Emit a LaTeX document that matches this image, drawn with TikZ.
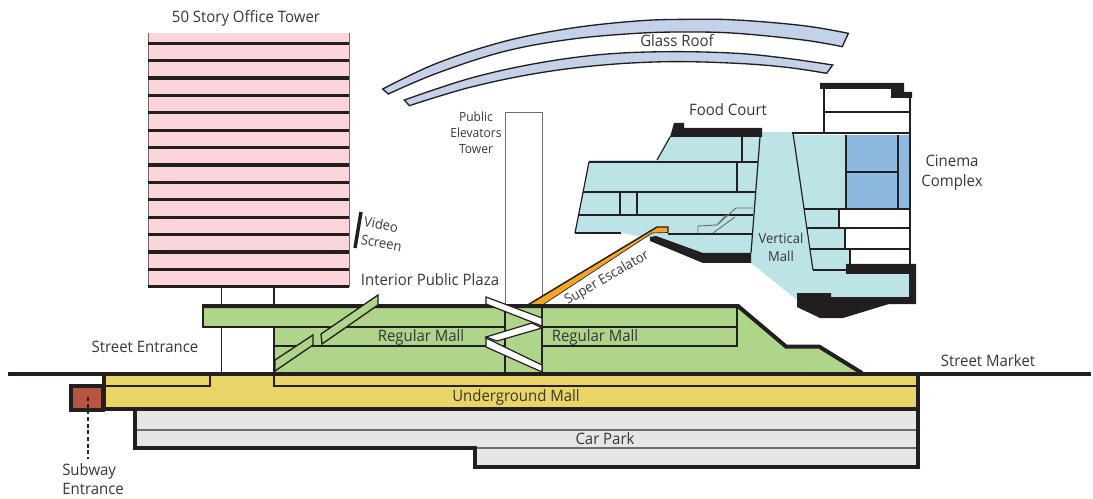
\documentclass[tikz,border=0pt]{standalone}
\usepackage{fontspec}
\setmainfont[FakeStretch=0.95]{Open Sans}
\definecolor{ink}{HTML}{231F20}
\definecolor{pinkf}{HTML}{FBD5D9}
\definecolor{greenf}{HTML}{AED589}
\definecolor{yellowf}{HTML}{E8D565}
\definecolor{greyf}{HTML}{E5E6E5}
\definecolor{aquaf}{HTML}{BCE3E6}
\definecolor{bluef}{HTML}{8DB8E0}
\definecolor{glassf}{HTML}{C3D2E8}
\definecolor{brickf}{HTML}{B85540}
\definecolor{orangef}{HTML}{F5A623}
\tikzset{
 heavy/.style={draw=ink,line width=3pt,line cap=butt,line join=miter},
 floorline/.style={draw=ink,line width=2.1pt},
 towerline/.style={draw=ink,line width=2.4pt},
 thinline/.style={draw=ink,line width=0.9pt},
 hair/.style={draw=ink!65,line width=0.7pt},
 solidblack/.style={fill=ink,draw=none},
 lab/.style={font=\fontsize{11.8}{13}\selectfont,text=ink!90,inner sep=0pt,align=center},
 ramp/.style={fill=white,draw=ink,line width=0.9pt,line join=miter},
 gramp/.style={fill=greenf,draw=ink,line width=1pt,line join=miter},
}
\begin{document}
\begin{tikzpicture}[x=0.75pt,y=-0.75pt]
\useasboundingbox (0,0) rectangle (1093,499);
% ---- tower
\fill[pinkf] (148,33) rectangle (349,287);
\draw[hair] (148,33) -- (148,287) (349,33) -- (349,287);
\foreach \i in {0,...,14}{\draw[towerline] (148,{43.3+17.385*\i}) -- (349,{43.3+17.385*\i});}
\draw[thinline] (221.5,287) -- (221.5,306) (274,287) -- (274,306);
\draw[draw=ink,line width=2.6pt] (361,212) -- (355,248);
% ---- glass roof
\begin{scope}[shift={(370,10)},x=0.25pt,y=-0.25pt]
\draw[fill=glassf,draw=ink,line width=1pt,line join=miter]
 plot[smooth,tension=0.6] coordinates {(38,237)(200,160)(400,95)(600,55)(800,33)(950,28)(1100,30)(1300,47)(1435,70)}
 -- (1417,110) -- plot[smooth,tension=0.6] coordinates {(1417,110)(1300,90)(1100,70)(950,66)(800,70)(600,88)(400,125)(200,190)(55,252)} -- cycle;
\draw[fill=glassf,draw=ink,line width=1pt,line join=miter]
 plot[smooth,tension=0.6] coordinates {(103,270)(300,205)(500,160)(700,133)(900,125)(1100,130)(1250,145)(1388,165)}
 -- (1370,190) -- plot[smooth,tension=0.6] coordinates {(1370,190)(1250,172)(1100,160)(900,155)(700,165)(500,190)(300,232)(118,287)} -- cycle;
\end{scope}
% ---- vertical mall fill
\fill[aquaf] (760,132) -- (793,132) -- (813,270) -- (846,270) -- (846,274) -- (909,274) -- (909,297) -- (831,297) -- (831,293) -- (797,293) -- (797,300) -- (751,263) -- (751,250) -- cycle;
% ---- food court block
\fill[aquaf] (670,137) -- (657,160) -- (589,160) -- (575,233) -- (621,233) -- (650,238) -- (703,253) -- (751,253) -- (760,137) -- cycle;
\draw[thinline] (670,137) -- (657,160);
\draw[thinline] (589,162) -- (575,233) (760,137) -- (751,253);
\draw[solidblack] (670,137) -- (674,123) -- (684,123) -- (684,128) -- (762,128) -- (762,137) -- cycle;
\draw[floorline] (589,162) -- (758,162);
\draw[floorline] (583,192) -- (755,192);
\draw[floorline] (578,215) -- (753,215);
\draw[floorline] (575,233) -- (621,233);
\draw[floorline] (668,234) -- (752,234);
\draw[thinline] (742,137) -- (742,161) (737,162) -- (737,192) (620,192) -- (620,215) (637,192) -- (637,215);
\draw[hair] (753,208) -- (736,208) -- (717,225) -- (698,226) -- (698,233);
\draw[hair] (735,217) -- (713,233);
\draw[hair] (726,215) -- (717,225);
\draw[solidblack] (650,237) -- (656,236) -- (703,253) -- (751,253) -- (751,263) -- (703,263) -- (650,241) -- cycle;
% ---- cinema block
\fill[aquaf] (793,135) -- (846,135) -- (846,208) -- (804,208) -- cycle;
\fill[bluef] (846,135) rectangle (910,208);
\fill[aquaf] (805,209) -- (839,209) -- (839,228) -- (808,228) -- cycle;
\fill[aquaf] (808,228) -- (845,228) -- (845,249) -- (811,249) -- cycle;
\fill[aquaf] (811,249) -- (850,249) -- (850,270) -- (813,270) -- cycle;
\draw[thinline] (793,133) -- (813,270);
\draw[thinline] (824,88) -- (824,133) (910,97) -- (910,265);
\draw[solidblack] (820,83) -- (904,83) -- (904,92) -- (912,92) -- (912,98) -- (891,98) -- (891,89) -- (820,89) -- cycle;
\draw[floorline,line width=2pt] (824,112) -- (910,112);
\draw[floorline] (792,133) -- (910,133);
\draw[thinline] (846,135) -- (846,208) (898,135) -- (898,208) (839,209) -- (839,228) (845,228) -- (845,249) (850,249) -- (850,265);
\draw[floorline] (846,172) -- (899,172);
\draw[floorline] (804,209) -- (910,209);
\draw[floorline] (807,228) -- (910,228);
\draw[floorline,line width=1.8pt] (810,249) -- (910,249);
\draw[floorline] (813,270) -- (848,270);
\draw[solidblack] (846,264) -- (916,264) -- (916,304) -- (889,304) -- (843,318) -- (820,318) -- (797,307) -- (797,293) -- (831,293) -- (831,297) -- (909,297) -- (909,274) -- (846,274) -- cycle;
% ---- elevators tower (upper part)
\draw[hair] (505,306) -- (505,112) -- (542,112) -- (542,306);
% ---- super escalator
\fill[orangef] (526,306) -- (657,227) -- (668,227) -- (668,232.5) -- (652,233) -- (541,306) -- cycle;
\draw[draw=ink,line width=1.1pt,line join=miter] (526,306) -- (657,227) -- (668,227) -- (668,232.5);
\draw[draw=ink,line width=0.5pt,line join=miter] (668,232.5) -- (652,233) -- (541,306);
% ---- mall
\fill[greenf] (203,306) -- (738,306) -- (786,347) -- (819,347) -- (862,373) -- (274,373) -- (274,327) -- (203,327) -- cycle;
\draw[thinline] (203,306) -- (203,327);
\draw[heavy] (202,306) -- (738,306) -- (786,346.5) -- (819,346.5) -- (862,373);
\draw[floorline] (202,327) -- (505,327) (542,327) -- (738,327);
\draw[floorline] (274,346) -- (505,346) (542,346) -- (738,346);
\draw[thinline] (221.5,327) -- (221.5,373) (274,327) -- (274,373) (505,306) -- (505,373) (542,306) -- (542,373) (737,306) -- (737,346);
\draw[gramp] (378,295) -- (378,305) -- (322,344) -- (321,334) -- cycle;
\draw[gramp] (313,335) -- (313,345) -- (275,371) -- (275,360) -- cycle;
\draw[ramp] (486,297) -- (542,318) -- (542,326) -- (486,304) -- cycle;
\draw[ramp] (486,337) -- (497,341) -- (542,328) -- (532,323) -- cycle;
\draw[ramp] (486,338) -- (542,365) -- (542,372) -- (486,347) -- cycle;
% ---- underground
\fill[yellowf] (104,374) rectangle (918,409);
\fill[greyf] (134,409) -- (918,409) -- (918,467) -- (475,467) -- (475,448) -- (134,448) -- cycle;
\draw[hair,line width=1pt] (136,430) -- (917,430) (477,448) -- (917,448);
\draw[thinline] (105,386) -- (210,386) -- (210,373) (274,373) -- (274,386) -- (917,386);
\draw[fill=brickf,draw=ink,line width=2.6pt] (71,386) rectangle (103,410);
\draw[heavy] (103.5,373) -- (103.5,409);
\draw[heavy] (102,409) -- (918,409);
\draw[heavy] (134.5,409) -- (134.5,448) -- (475,448) -- (475,467) -- (918,467) -- (918,373);
\draw[draw=ink,line width=3pt] (8,373.5) -- (1091,373.5);
\draw[draw=ink,line width=1pt,dash pattern=on 3pt off 2pt] (88,397) -- (88,459);
% ---- labels
\node[lab] (tower) at (246,18) {50 Story Office Tower};
\node[lab] (roof) at (677,41) {Glass Roof};
\node[lab] (food) at (728,110) {Food Court};
\node[lab,font=\fontsize{9.5}{12}\selectfont] (elev) at (476,133) {Public\\Elevators\\Tower};
\node[lab,font=\fontsize{11.8}{15}\selectfont] (cinema) at (952,173) {Cinema\\Complex};
\node[lab,font=\fontsize{10.3}{13.5}\selectfont] (vm) at (781,247) {Vertical\\Mall};
\node[lab,rotate=-10,align=left,font=\fontsize{10.3}{13.5}\selectfont] (video) at (383,234) {Video\\Screen};
\node[lab,font=\fontsize{10.3}{12}\selectfont,rotate=30] (esc) at (607,278) {Super Escalator};
\node[lab] (plaza) at (430,280) {Interior Public Plaza};
\node[lab] (rm1) at (421,337) {Regular Mall};
\node[lab] (rm2) at (595,337) {Regular Mall};
\node[lab] (se) at (145,347) {Street Entrance};
\node[lab] (sm) at (988,361) {Street Market};
\node[lab] (um) at (516,397) {Underground Mall};
\node[lab] (cp) at (605,439) {Car Park};
\node[lab,align=left,font=\fontsize{11.8}{14.5}\selectfont,anchor=north west] (sub) at (62,463) {Subway\\Entrance};
\end{tikzpicture}
\end{document}
